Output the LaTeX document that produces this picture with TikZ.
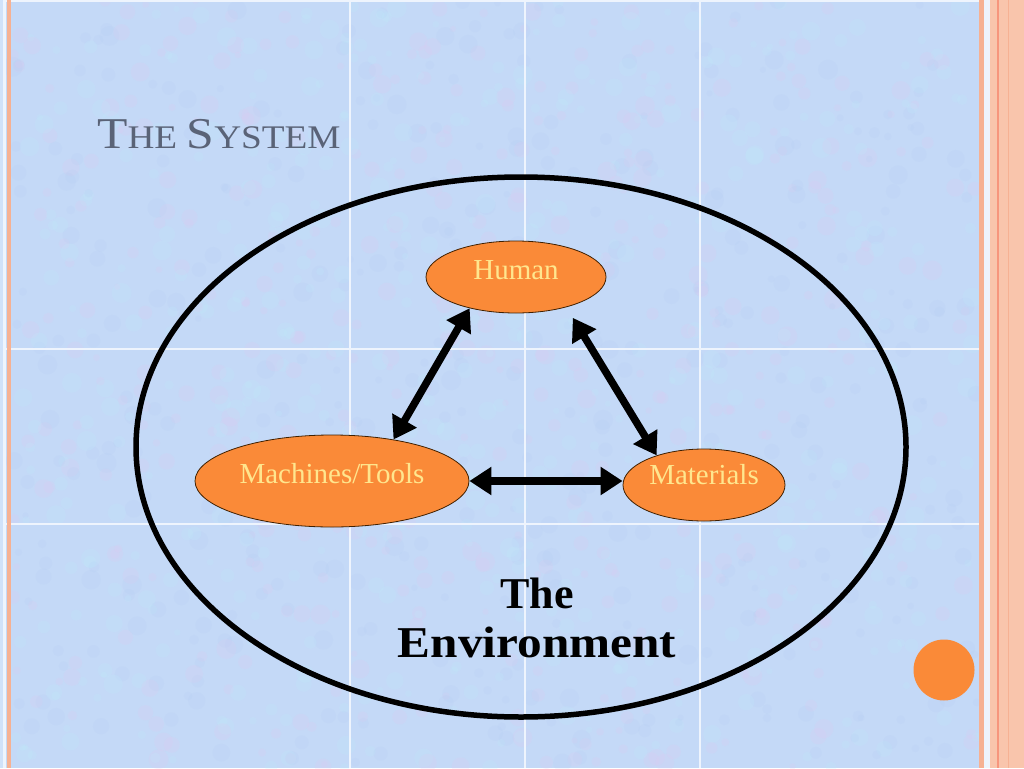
\documentclass[tikz,border=0pt]{standalone}
\usepackage{fontspec}
\setmainfont{Liberation Serif}
\usetikzlibrary{shapes.geometric,arrows.meta}
\definecolor{bgblue}{HTML}{C4D9F7}
\definecolor{blobpink}{HTML}{E2C8F0}
\definecolor{blobcyan}{HTML}{BEEDFC}
\definecolor{blobblue}{HTML}{ACC6F2}
\definecolor{nodeorange}{HTML}{FA8A38}
\definecolor{nodetext}{HTML}{FFE68E}
\definecolor{titlegray}{HTML}{5A6377}
\definecolor{salmon}{HTML}{F9C5AC}
\definecolor{stripe}{HTML}{F6B193}
\definecolor{gridwhite}{HTML}{EEF4FD}
\tikzset{
  orangenode/.style={ellipse,draw=black!75!orange,line width=0.8pt,fill=nodeorange,inner sep=0pt},
  lbl/.style={text=nodetext,font=\fontsize{29}{32}\selectfont,inner sep=0pt},
  biarrow/.style={line width=7.5pt,{Triangle[length=22pt,width=27pt]}-{Triangle[length=22pt,width=27pt]}},
  gridline/.style={gridwhite,line width=1.2pt}
}
\begin{document}
\begin{tikzpicture}[x=1pt,y=-1pt]
\useasboundingbox (0,0) rectangle (1024,768);
% background
\fill[bgblue] (0,0) rectangle (1024,768);
\pgfmathsetseed{7}
\foreach \i in {1,...,1400}{
  \pgfmathsetmacro{\px}{12+rnd*966}
  \pgfmathsetmacro{\py}{rnd*768}
  \pgfmathsetmacro{\pr}{3+rnd*7}
  \pgfmathsetmacro{\pc}{rnd}
  \ifdim\pc pt<0.35pt
    \fill[blobpink,opacity=0.18] (\px,\py) circle[radius=\pr];
  \else\ifdim\pc pt<0.7pt
    \fill[blobcyan,opacity=0.18] (\px,\py) circle[radius=\pr];
  \else
    \fill[blobblue,opacity=0.12] (\px,\py) circle[radius=\pr];
  \fi\fi
}
% grid lines
\draw[gridline] (350,0) -- (350,768);
\draw[gridline] (525,0) -- (525,768);
\draw[gridline] (700,0) -- (700,768);
\draw[gridline] (0,349) -- (979,349);
\draw[gridline] (0,524) -- (979,524);
\draw[gridline] (0,1) -- (979,1);
% left edge
\fill[gridwhite] (0,0) rectangle (6,768);
\fill[bgblue!80!white] (0,0) rectangle (2.5,768);
\fill[stripe] (7,0) rectangle (11,768);
% right edge
\fill[stripe] (979,0) rectangle (983.5,768);
\fill[gridwhite] (983.5,0) rectangle (990,768);
\fill[salmon] (990,0) rectangle (1024,768);
\draw[stripe!85!red,line width=1.2pt] (998,0) -- (998,768);
\draw[stripe,line width=1pt] (1008,0) -- (1008,768);
% title
\node[anchor=base west,inner sep=0pt,text=titlegray] (title) at (97,148)
  {\scalebox{1.13}[1]{\fontsize{44}{48}\selectfont T\fontsize{33}{36}\selectfont HE \fontsize{44}{48}\selectfont S\fontsize{33}{36}\selectfont YSTEM}};
% environment
\node[ellipse,draw=black,line width=5.5pt,minimum width=770pt,minimum height=540pt,inner sep=0pt] (env) at (521,447) {};
\node[anchor=base,inner sep=0pt,font=\bfseries\fontsize{44}{48}\selectfont] (envthe) at (537,608) {The};
\node[anchor=base,inner sep=0pt,font=\bfseries\fontsize{44}{48}\selectfont] (envenv) at (537,657) {\scalebox{1.12}[1]{Environment}};
% nodes
\node[orangenode,minimum width=180pt,minimum height=72pt] (human) at (516,277) {};
\node[orangenode,minimum width=274pt,minimum height=92pt] (mach) at (332,481) {};
\node[orangenode,minimum width=162pt,minimum height=72pt] (mat) at (704,485) {};
\node[lbl] (humant) at ([yshift=7pt]human.center) {Human};
\node[lbl] (macht) at ([yshift=7pt]mach.center) {Machines/Tools};
\node[lbl] (matt) at ([yshift=10pt]mat.center) {Materials};
% arrows
\coordinate (hmtip) at ([xshift=13pt,yshift=-9pt]human.-36);
\draw[biarrow] (human.214) -- (mach.34);
\draw[biarrow] (hmtip) -- (mat.148);
\draw[biarrow] (mach.east |- 0,481) -- (mat.west |- 0,481);
% decorative dot
\fill[nodeorange] (944,670) circle[radius=30.5];
\end{tikzpicture}
\end{document}
